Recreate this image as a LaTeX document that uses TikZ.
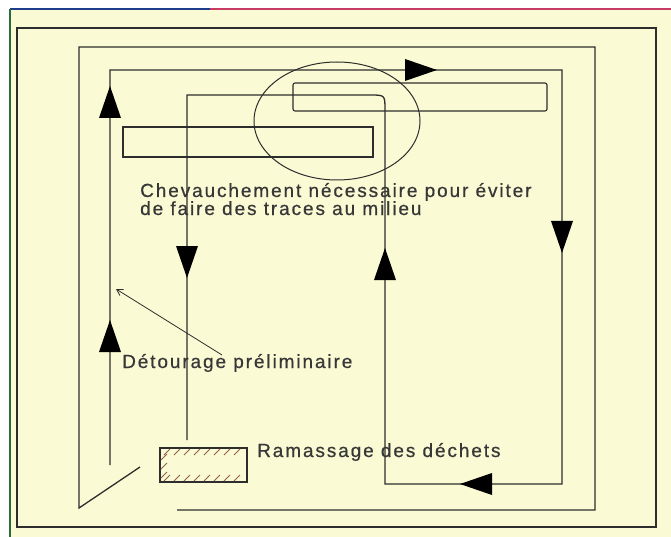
\documentclass[tikz,border=0pt]{standalone}
\usepackage{fontspec}
\usepackage{tikz}
\usetikzlibrary{arrows.meta}
\newfontfamily\labelfont[LetterSpace=10,FakeBold=0.6]{Liberation Sans}
\definecolor{papier}{RGB}{250,250,212}
\definecolor{trait}{RGB}{45,45,45}
\definecolor{texte}{RGB}{55,55,55}
\definecolor{hachure}{RGB}{150,95,75}
\definecolor{bandebleue}{RGB}{30,60,140}
\definecolor{banderose}{RGB}{200,60,100}
\definecolor{bandeverte}{RGB}{40,110,60}
% triangle plein sur un parcours : x, y, angle
\newcommand{\flechesens}[3]{\fill[black,shift={(#1,#2)},rotate=#3] (16,0)--(-16,11)--(-16,-11)--cycle;}
\tikzset{
  parcours/.style={trait,line width=1.3pt},
  bande/.style={trait,line width=1.1pt},
  legende/.style={font=\labelfont\fontsize{19}{18}\selectfont,text=texte,inner sep=0pt,align=left},
}

\begin{document}
\begin{tikzpicture}[x=1pt, y=-1pt]
\useasboundingbox (0,0) rectangle (671,537);
\fill[papier] (10,9) rectangle (671,537);
\draw[bandebleue,line width=2.5pt] (10,9)--(210,9);
\draw[banderose,line width=2.5pt] (210,9)--(671,9);
\draw[bandeverte,line width=1.5pt] (10,9)--(10,537);
% cadre exterieur
\draw[parcours] (17,28) rectangle (656,527);
% deuxieme tour
\draw[parcours] (177,510)--(595,510)--(595,47)--(79,47)--(79,508)--(140,467);
% tour avec le sens d'usinage
\draw[parcours] (110,465)--(110,70)--(562,70)--(562,484)--(385,484)--(385,110)
  .. controls (385,95) .. (370,95)--(187,95)--(187,440);
\flechesens{110}{102}{90}
\flechesens{110}{336}{90}
\flechesens{421}{70}{0}
\flechesens{562}{237}{270}
\flechesens{476}{484}{180}
\flechesens{385}{264}{90}
\flechesens{187}{262}{270}
% bandes de chevauchement
\draw[bande] (123,127) rectangle (373,157);
\draw[bande,rounded corners=2pt] (293,83) rectangle (547,111);
\draw[trait,line width=1pt] (337,121) ellipse [x radius=83, y radius=59];
% zone des dechets
\draw[trait,line width=1.1pt] (160,448) rectangle (247,482);
\foreach \x in {164,174,...,240}{
  \draw[hachure,line width=0.9pt] (\x,455)--(\x+6,449);
  \draw[hachure,line width=0.9pt] (\x,481)--(\x+6,475);
}
\foreach \y in {460,469,478}
  \draw[hachure,line width=0.9pt] (161,\y)--(167,\y-6);
% legendes
\node[legende,anchor=base west] (chevauchement) at (140,215)
  {Chevauchement nécessaire pour éviter\\de faire des traces au milieu};
\node[legende,anchor=base west] (detourage) at (122,368) {Détourage préliminaire};
\node[legende,anchor=base west] (ramassage) at (257,457) {Ramassage des déchets};
\coordinate (detpied) at (222,355);
\coordinate (detpointe) at (116,289);
\draw[trait,line width=0.8pt,-{Straight Barb[length=6pt,width=7pt]}] (detpied)--(detpointe);
\end{tikzpicture}
\end{document}
